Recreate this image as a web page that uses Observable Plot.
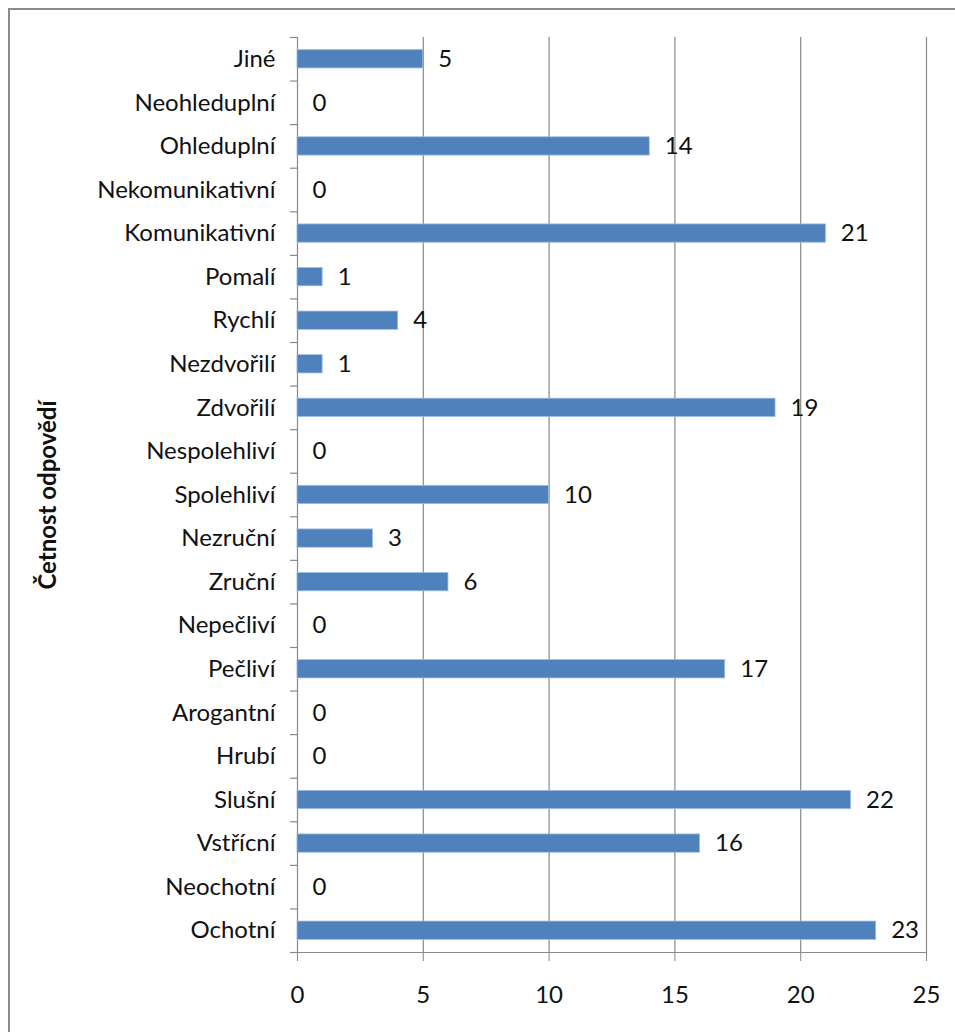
<!DOCTYPE html>
<html>
<head>
<meta charset="utf-8">
<script src="https://cdn.jsdelivr.net/npm/d3@7"></script>
<script src="https://cdn.jsdelivr.net/npm/@observablehq/plot@0.6"></script>
<style>
  html, body { margin: 0; padding: 0; background: #fff; }
  #wrap { position: relative; width: 955px; height: 1032px; overflow: hidden; }
  #frame { position: absolute; left: 8px; top: 8px; width: 1000px; height: 1100px;
           border-left: 2px solid #8a8a8a; border-top: 2px solid #8a8a8a; }
  #chart { position: absolute; left: 0; top: 0; }
</style>
</head>
<body>
<div id="wrap"><div id="frame"></div><div id="chart"></div></div>
<script>
// Categories, top to bottom
const categories = [
  "Jiné", "Neohleduplní", "Ohleduplní", "Nekomunikativní", "Komunikativní",
  "Pomalí", "Rychlí", "Nezdvořilí", "Zdvořilí", "Nespolehliví", "Spolehliví",
  "Nezruční", "Zruční", "Nepečliví", "Pečliví", "Arogantní", "Hrubí",
  "Slušní", "Vstřícní", "Neochotní", "Ochotní"
];
const counts = [5, 0, 14, 0, 21, 1, 4, 1, 19, 0, 10, 3, 6, 0, 17, 0, 0, 22, 16, 0, 23];
const xTicks = [0, 5, 10, 15, 20, 25];
const axisTitle = "Četnost odpovědí";

const data = categories.map((c, i) => ({category: c, count: counts[i]}));

const W = 955, H = 1032;
const mTop = 37, mBottom = 80, mLeft = 297, mRight = 29;
const band = (H - mTop - mBottom) / categories.length;
const tickLen = 7 * 25 / (W - mLeft - mRight); // 7px expressed in x units
const font = "Lato, 'Open Sans', sans-serif";
const fs = 24;
const grey = "#898989";

const chart = Plot.plot({
  width: W,
  height: H,
  marginTop: mTop,
  marginBottom: mBottom,
  marginLeft: mLeft,
  marginRight: mRight,
  style: {fontFamily: font, fontSize: fs + "px", color: "#111", background: "transparent"},
  x: {domain: [0, 25], ticks: xTicks},
  y: {domain: categories, paddingInner: 0.58, paddingOuter: 0.29, round: false},
  marks: [
    // vertical gridlines
    Plot.ruleX(xTicks.slice(1), {stroke: grey, strokeWidth: 1.2}),
    // value axis line at zero and category axis baseline
    Plot.ruleX([0], {stroke: grey, strokeWidth: 1.2}),
    Plot.ruleY([categories[categories.length - 1]], {x1: 0, x2: 25, dy: band / 2, stroke: grey, strokeWidth: 1.2}),
    // category boundary ticks on the left of the axis
    Plot.ruleY(categories, {x1: 0, x2: tickLen, dx: -7, dy: -band / 2, stroke: grey, strokeWidth: 1.2}),
    Plot.ruleY([categories[categories.length - 1]], {x1: 0, x2: tickLen, dx: -7, dy: band / 2, stroke: grey, strokeWidth: 1.2}),
    // bars
    Plot.barX(data, {x: "count", y: "category", fill: "#4F81BD", stroke: "#9dbde3", strokeWidth: 0.8}),
    // value labels
    Plot.text(data, {x: "count", y: "category", text: d => String(d.count), textAnchor: "start", dx: 15, fontSize: fs, fill: "#111"}),
    Plot.axisY({tickSize: 0, tickPadding: 22, label: null, fontSize: fs}),
    Plot.axisX({tickSize: 9, tickPadding: 24, label: null, stroke: grey, fontSize: fs}),
    // axis title
    Plot.text([axisTitle], {frameAnchor: "left", textAnchor: "middle", rotate: -90, dx: -249, fontWeight: "bold", fontSize: fs, fill: "#111"})
  ]
});
document.getElementById("chart").appendChild(chart);
</script>
</body>
</html>
